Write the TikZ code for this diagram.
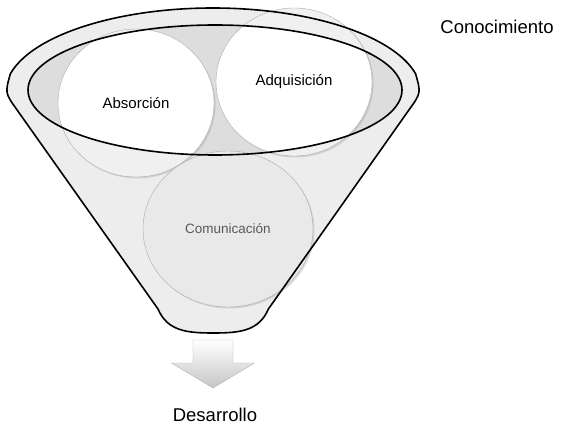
\documentclass[tikz,border=0pt]{standalone}
\usepackage{fontspec}
\setmainfont{Liberation Sans}
\usetikzlibrary{shapes,shadows,positioning}

% outline of the funnel
\newcommand{\funnelshape}{(10.3,360.1) arc[start angle=167, end angle=13, x radius=208pt, y radius=85pt] .. controls (421,341) .. (409.4,324.7) -- (268.4,125) .. controls (259,103) and (240,101) .. (213.25,101) .. controls (186.5,101) and (167.5,103) .. (158,125) -- (16.6,324.7) .. controls (5,341) .. (10.3,360.1) -- cycle}

\begin{document}
\begin{tikzpicture}[x=1pt, y=1pt,
    rim/.style={draw=black, line width=1.6pt},
    bubble/.style={ellipse, draw=gray!65, fill=gray!12, inner sep=0pt, minimum width=156pt, minimum height=148pt, font=\fontsize{15}{17}\selectfont, drop shadow={shadow xshift=1.5pt, shadow yshift=-1.5pt, opacity=0.25}},
    glass/.style={path picture={\fill[white] (mouth) ellipse [x radius=187pt, y radius=65pt];}},
    caption/.style={font=\fontsize{18.5}{20}\selectfont}
]
    \useasboundingbox (0,0) rectangle (561,434);
    \coordinate (mouth) at (215,344);
    \coordinate (spout) at (213,94);

    % Funnel body
    \fill[gray!14] \funnelshape;
    \fill[gray!27] (mouth) ellipse [x radius=187pt, y radius=65pt];

    % Bubbles
    \node[bubble, glass] (absorb) at (136,331) {Absorción};
    \node[bubble, glass] (acquire) at (294,352) {Adquisición};
    \node[bubble, fill=gray!17, text=gray!70!black, minimum width=170pt, minimum height=156pt, font=\fontsize{13.5}{15}\selectfont] (talk) at (228,205) {Comunicación};

    % Outlines on top
    \draw[rim, line join=round] \funnelshape;
    \draw[rim] (mouth) ellipse [x radius=187pt, y radius=65pt];

    % Output arrow
    \draw[draw=gray!60, top color=white, bottom color=gray!45] (spout) ++(-20,0) -- ++(40,0) -- ++(0,-23) -- ++(21.5,0) -- ++(-41.5,-25) -- ++(-41.5,25) -- ++(21.5,0) -- cycle;
    \node[caption] (outcome) at (215,19) {Desarrollo};
    \node[caption] (topic) at (497,407) {Conocimiento};
\end{tikzpicture}
\end{document}
